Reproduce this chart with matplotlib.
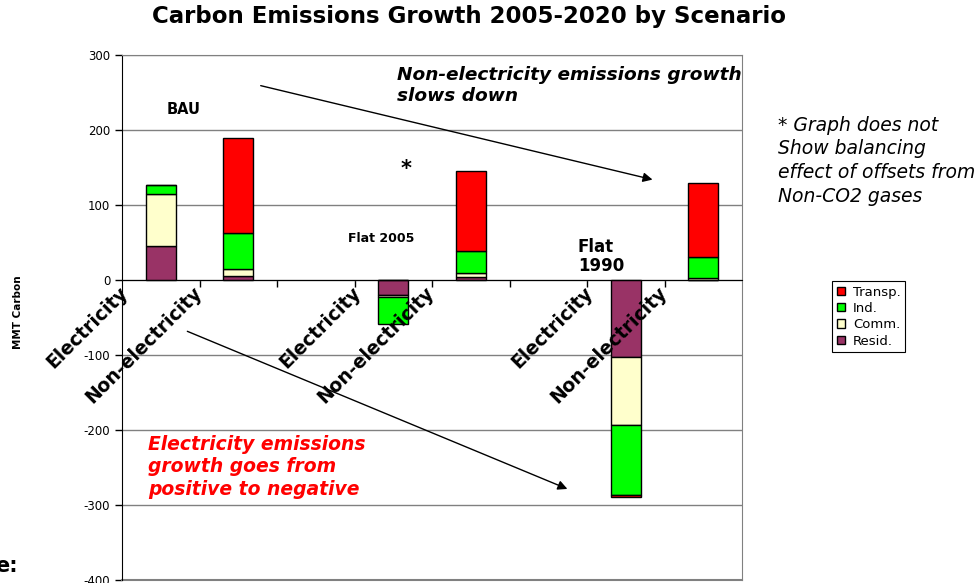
import numpy as np
import matplotlib
matplotlib.use("Agg")
import matplotlib.pyplot as plt

plt.rcParams["font.family"] = ["DejaVu Sans"]
plt.rcParams["axes.unicode_minus"] = False

# categorias del eje x (ranuras vacias separan los escenarios)
categories = ["Electricity", "Non-electricity", "",
              "Electricity", "Non-electricity", "",
              "Electricity", "Non-electricity"]
bar_slots = [0, 1, 3, 4, 6, 7]

# crecimiento 2005-2020 por sector (MMT Carbon)
resid = [46, 5, -20, 3.5, -103, 0.5]
comm = [69, 10, -2, 5.5, -90, 2.5]
ind = [12, 48, -37, 30, -93, 28]
transp = [0, 127, 0, 107, -3, 99]

series = [("Resid.", resid, "#993366"),
          ("Comm.", comm, "#FFFFCC"),
          ("Ind.", ind, "#00FF00"),
          ("Transp.", transp, "#FF0000")]

fig = plt.figure(figsize=(9.8, 5.83), dpi=100)
ax = fig.add_axes([122 / 980, 3 / 583, 620 / 980, 525 / 583])

x = np.array(bar_slots, dtype=float)
pos_base = np.zeros(len(x))
neg_base = np.zeros(len(x))
handles = {}
for name, vals, color in series:
    v = np.array(vals, dtype=float)
    base = np.where(v >= 0, pos_base, neg_base)
    b = ax.bar(x, v, width=0.39, bottom=base, color=color,
               edgecolor="black", linewidth=1, zorder=3)
    handles[name] = b
    pos_base += np.where(v >= 0, v, 0)
    neg_base += np.where(v < 0, v, 0)

ax.set_xlim(-0.5, 7.5)
ax.set_ylim(-400, 300)
ax.set_yticks(np.arange(-400, 301, 100))
ax.tick_params(axis="y", labelsize=8.5, length=5, direction="out", width=1)
ax.yaxis.grid(True, color="#808080", linewidth=1, zorder=0)

# eje x en cero con marcas entre categorias
ax.spines["bottom"].set_position(("data", 0))
ax.spines["bottom"].set_color("black")
ax.spines["bottom"].set_zorder(4)
ax.set_xticks(np.arange(0.5, 7.5, 1))
ax.set_xticklabels([])
ax.tick_params(axis="x", length=5, direction="out", width=1)
for s in ["top", "right"]:
    ax.spines[s].set_color("#808080")
ax.axhline(-400, color="#808080", linewidth=1.5, clip_on=False)

for i, lab in enumerate(categories):
    if not lab:
        continue
    off = 0.37 if lab == "Electricity" else 0.42
    ax.text(i - off, -4, lab, rotation=45, ha="right", va="top",
            fontsize=13.5, fontweight="bold", zorder=5)

ax.set_ylabel("MMT Carbon", fontsize=7.5, fontweight="bold", labelpad=0)
ax.yaxis.set_label_coords(-0.16, 0.51)

# etiquetas de escenario
ax.text(0.29, 227, "BAU", fontsize=10.5, fontweight="bold", ha="center", va="center")
ax.text(2.85, 55, "Flat 2005", fontsize=9, fontweight="bold", ha="center", va="center")
ax.text(5.38, 31, "Flat\n1990", fontsize=12, fontweight="bold", ha="left",
        va="center", linespacing=1.1)
ax.text(3.16, 148, "*", fontsize=15, fontweight="bold", ha="center", va="center")

ax.text(3.05, 286, "Non-electricity emissions growth\nslows down", fontsize=13.3,
        fontweight="bold", style="italic", ha="left", va="top", linespacing=1.25)
ax.text(-0.16, -206, "Electricity emissions\ngrowth goes from\npositive to negative",
        fontsize=13.5, fontweight="bold", style="italic", color="#FF0000",
        ha="left", va="top", linespacing=1.25)

arrow = dict(arrowstyle="-|>", color="black", lw=1, mutation_scale=14)
ax.annotate("", xy=(6.38, 133), xytext=(1.255, 260), arrowprops=arrow)
ax.annotate("", xy=(5.28, -280), xytext=(0.31, -67), arrowprops=arrow)

fig.text(469 / 980, 1 - 17 / 583, "Carbon Emissions Growth 2005-2020 by Scenario",
         fontsize=16.5, fontweight="bold", ha="center", va="center")
fig.text(778 / 980, 1 - 116 / 583,
         "* Graph does not\nShow balancing\neffect of offsets from\nNon-CO2 gases",
         fontsize=13.5, style="italic", ha="left", va="top", linespacing=1.3)
fig.text(-0.005, 1 - 566 / 583, "e:", fontsize=15, fontweight="bold",
         ha="left", va="center")

order = ["Transp.", "Ind.", "Comm.", "Resid."]
leg = fig.legend([handles[k] for k in order], order, loc="upper left",
                 bbox_to_anchor=(832 / 980, 1 - 281 / 583), fontsize=9.5,
                 handlelength=0.65, handleheight=0.6, handletextpad=0.6,
                 fancybox=False, edgecolor="black", framealpha=1,
                 borderpad=0.35, labelspacing=0.25, borderaxespad=0)
leg.get_frame().set_linewidth(0.8)

fig.savefig("out.png", dpi=100)
